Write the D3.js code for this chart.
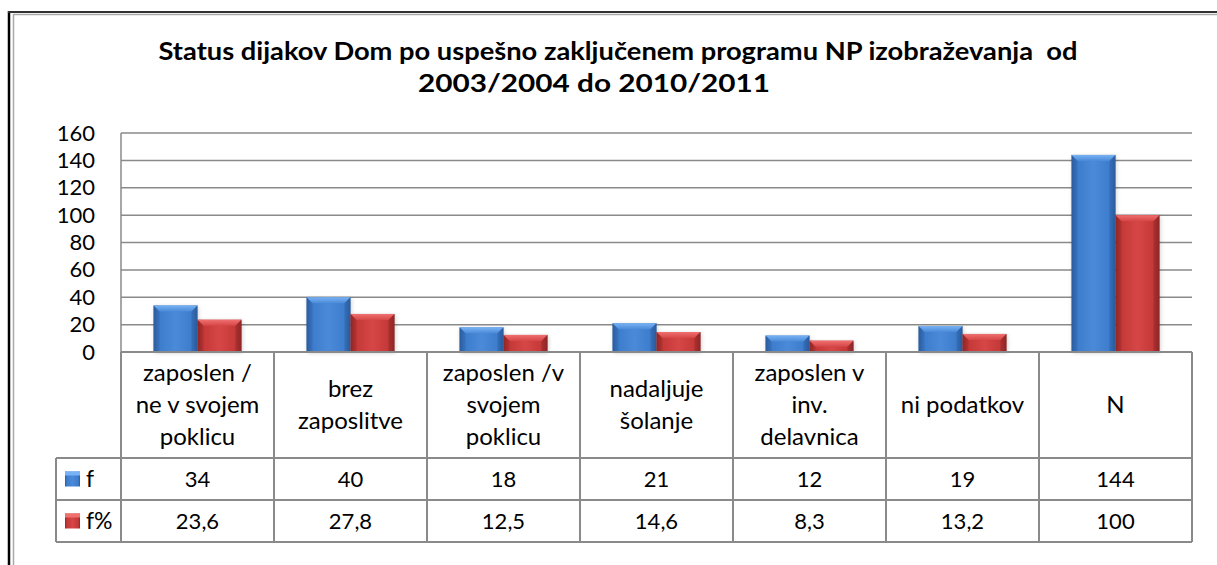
<!DOCTYPE html>
<html>
<head>
<meta charset="utf-8">
<script src="https://cdn.jsdelivr.net/npm/d3@7"></script>
<style>
  body { margin: 0; background: #fff; }
  svg { display: block; font-family: Lato, "Open Sans", sans-serif; }
</style>
</head>
<body>
<script>
"use strict";

const categories = [
	["zaposlen /", "ne v svojem", "poklicu"],
	["brez", "zaposlitve"],
	["zaposlen /v", "svojem", "poklicu"],
	["nadaljuje", "šolanje"],
	["zaposlen v", "inv.", "delavnica"],
	["ni podatkov"],
	["N"]
];
const seriesNames = ["f", "f%"];
const fValues = [34, 40, 18, 21, 12, 19, 144];
const fPctValues = [23.6, 27.8, 12.5, 14.6, 8.3, 13.2, 100];
const fLabels = ["34", "40", "18", "21", "12", "19", "144"];
const fPctLabels = ["23,6", "27,8", "12,5", "14,6", "8,3", "13,2", "100"];
const yTicks = [0, 20, 40, 60, 80, 100, 120, 140, 160];
const titleLines = ["Status dijakov Dom po uspešno zaključenem programu NP izobraževanja  od", "2003/2004 do 2010/2011"];

function app() {
	const w = 1217;
	const h = 565;
	const left = 121, right = 1192, top = 133, bottom = 352;
	const rowH = [106, 42, 42];
	const legendLeft = 56;
	const gridColor = "#8a8a8a";

	const svg = d3.select("body").append("svg").attr("width", w).attr("height", h);
	const defs = svg.append("defs");

	// bar gradients (horizontal shading like Excel bevel)
	const pal = {
		f: { dark: "#2b5c9e", mid: "#3c7ccc", light: "#4a8ad8", top: "#78b2f4" },
		"f%": { dark: "#8e2626", mid: "#c43838", light: "#d64646", top: "#f07070" }
	};
	seriesNames.forEach((s, i) => {
		const g = defs.append("linearGradient").attr("id", "g" + i).attr("x1", 0).attr("x2", 1).attr("y1", 0).attr("y2", 0);
		g.append("stop").attr("offset", 0).attr("stop-color", pal[s].dark);
		g.append("stop").attr("offset", 0.12).attr("stop-color", pal[s].mid);
		g.append("stop").attr("offset", 0.5).attr("stop-color", pal[s].light);
		g.append("stop").attr("offset", 0.88).attr("stop-color", pal[s].mid);
		g.append("stop").attr("offset", 1).attr("stop-color", pal[s].dark);
		const t = defs.append("linearGradient").attr("id", "t" + i).attr("x1", 0).attr("x2", 0).attr("y1", 0).attr("y2", 1);
		t.append("stop").attr("offset", 0).attr("stop-color", pal[s].top);
		t.append("stop").attr("offset", 1).attr("stop-color", pal[s].light);
	});
	const blur = defs.append("filter").attr("id", "shadow").attr("x", -0.2).attr("y", -0.2).attr("width", 1.4).attr("height", 1.4);
	blur.append("feGaussianBlur").attr("stdDeviation", 2);

	// outer frame
	svg.append("line").attr("x1", 9).attr("x2", 9).attr("y1", 11).attr("y2", h).attr("stroke", "#000").attr("stroke-width", 2.5);
	svg.append("line").attr("x1", 8).attr("x2", w).attr("y1", 12).attr("y2", 12).attr("stroke", "#333").attr("stroke-width", 2);
	svg.append("line").attr("x1", 13.5).attr("x2", 13.5).attr("y1", 14).attr("y2", h).attr("stroke", "#aaa").attr("stroke-width", 1.5);
	svg.append("line").attr("x1", 13).attr("x2", w).attr("y1", 14.5).attr("y2", 14.5).attr("stroke", "#aaa").attr("stroke-width", 1.5);

	// title
	const title = svg.append("text").attr("text-anchor", "middle").attr("font-weight", "bold").attr("font-size", 25)
		.attr("fill", "#000").style("white-space", "pre");
	title.append("tspan").attr("x", 618).attr("y", 60).attr("textLength", 919).attr("lengthAdjust", "spacingAndGlyphs").text(titleLines[0]);
	title.append("tspan").attr("x", 594).attr("y", 92).attr("textLength", 352).attr("lengthAdjust", "spacingAndGlyphs").text(titleLines[1]);

	const xScale = d3.scaleBand().domain(d3.range(categories.length)).range([left, right]);
	const xInner = d3.scaleBand().domain(seriesNames).range([32.5, xScale.bandwidth() - 32.5]);
	const yScale = d3.scaleLinear().domain([0, 160]).range([bottom, top]);

	// grid
	svg.append("g").selectAll("line").data(yTicks).enter().append("line")
		.attr("x1", left).attr("x2", right)
		.attr("y1", d => yScale(d)).attr("y2", d => yScale(d))
		.attr("stroke", gridColor).attr("stroke-width", 1.5);
	svg.append("line").attr("x1", left).attr("x2", left).attr("y1", top).attr("y2", bottom)
		.attr("stroke", gridColor).attr("stroke-width", 1.5);

	// y axis
	const yAxis = d3.axisLeft(yScale).tickValues(yTicks).tickSize(0).tickPadding(26);
	const ya = svg.append("g").attr("transform", "translate(" + left + ",0)").call(yAxis);
	ya.select(".domain").remove();
	ya.selectAll("text").attr("font-size", 22).attr("font-family", "Lato, sans-serif").attr("fill", "#000");

	// bars
	const series = [fValues, fPctValues];
	series.forEach((vals, si) => {
		const g = svg.append("g");
		const s = seriesNames[si];
		const bw = xInner.bandwidth();
		const bars = g.selectAll("g").data(vals).enter().append("g")
			.attr("transform", (d, i) => "translate(" + (xScale(i) + xInner(s)) + ",0)");
		bars.append("rect").attr("x", 1).attr("y", d => yScale(d) + 1).attr("width", bw).attr("height", d => bottom - yScale(d))
			.attr("fill", "#000").attr("opacity", 0.18).attr("filter", "url(#shadow)");
		bars.append("rect").attr("x", 0).attr("y", d => yScale(d)).attr("width", bw).attr("height", d => bottom - yScale(d))
			.attr("fill", "url(#g" + si + ")");
		bars.append("path")
			.attr("d", d => {
				const y0 = yScale(d), b = 6;
				return "M0," + y0 + "L" + bw + "," + y0 + "L" + (bw - b) + "," + (y0 + b) + "L" + b + "," + (y0 + b) + "Z";
			})
			.attr("fill", "url(#t" + si + ")");
		bars.append("path")
			.attr("d", d => {
				const y0 = yScale(d), b = 6;
				return "M0," + y0 + "L" + b + "," + (y0 + b) + "L" + b + "," + bottom + "L0," + bottom + "Z";
			})
			.attr("fill", pal[s].dark).attr("opacity", 0.35);
		bars.append("path")
			.attr("d", d => {
				const y0 = yScale(d), b = 6;
				return "M" + bw + "," + y0 + "L" + (bw - b) + "," + (y0 + b) + "L" + (bw - b) + "," + bottom + "L" + bw + "," + bottom + "Z";
			})
			.attr("fill", pal[s].dark).attr("opacity", 0.5);
	});

	// data table
	const r1 = bottom + rowH[0];
	const r2 = r1 + rowH[1];
	const r3 = r2 + rowH[2];
	const tbl = svg.append("g").attr("stroke", gridColor).attr("stroke-width", 2).attr("fill", "none");
	tbl.append("line").attr("x1", left).attr("x2", right).attr("y1", bottom).attr("y2", bottom);
	[r1, r2, r3].forEach(y => tbl.append("line").attr("x1", legendLeft).attr("x2", right).attr("y1", y).attr("y2", y));
	tbl.append("line").attr("x1", legendLeft).attr("x2", legendLeft).attr("y1", r1).attr("y2", r3);
	tbl.selectAll(".v").data(d3.range(categories.length + 1)).enter().append("line")
		.attr("x1", i => left + i * xScale.bandwidth()).attr("x2", i => left + i * xScale.bandwidth())
		.attr("y1", bottom).attr("y2", r3);

	const txt = svg.append("g").attr("font-size", 22).attr("fill", "#000").attr("text-anchor", "middle");
	const lh = 32;
	categories.forEach((lines, i) => {
		const cx = xScale(i) + xScale.bandwidth() / 2;
		const cy = bottom + rowH[0] / 2;
		lines.forEach((ln, j) => {
			txt.append("text").attr("x", cx).attr("y", cy + (j - (lines.length - 1) / 2) * lh)
				.attr("dy", "0.35em").attr("font-size", 24).text(ln);
		});
	});
	const rows = [fLabels, fPctLabels];
	const rowY = [r1 + rowH[1] / 2, r2 + rowH[2] / 2];
	rows.forEach((labels, ri) => {
		txt.selectAll(".r" + ri).data(labels).enter().append("text")
			.attr("x", (d, i) => xScale(i) + xScale.bandwidth() / 2)
			.attr("y", rowY[ri]).attr("dy", "0.35em").text(d => d);
		// legend key
		svg.append("rect").attr("x", 65).attr("y", rowY[ri] - 7.5).attr("width", 15).attr("height", 15)
			.attr("fill", "url(#g" + ri + ")");
		svg.append("rect").attr("x", 65).attr("y", rowY[ri] - 7.5).attr("width", 15).attr("height", 4)
			.attr("fill", pal[seriesNames[ri]].top);
		svg.append("text").attr("x", 86).attr("y", rowY[ri]).attr("dy", "0.35em")
			.attr("font-size", 23).attr("fill", "#000").text(seriesNames[ri]);
	});
}

app();
</script>
</body>
</html>
